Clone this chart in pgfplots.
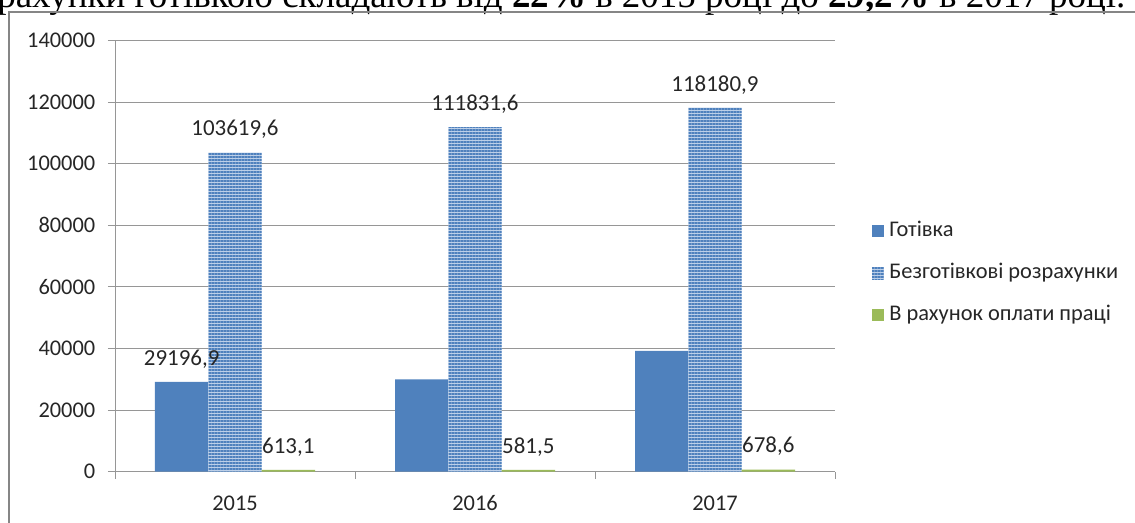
\documentclass[border=0pt]{standalone}
\usepackage{fontspec}
\setmainfont{Carlito}
\newfontfamily\serif{Liberation Serif}
\usepackage{pgfplots}
\pgfplotsset{compat=1.18}
\usetikzlibrary{patterns.meta}
\definecolor{cblue}{HTML}{4F81BD}
\definecolor{cgreen}{HTML}{9BBB59}
\definecolor{cstripe}{HTML}{BCCFE8}
\definecolor{cgrid}{HTML}{969696}
\definecolor{ctext}{HTML}{262626}
\definecolor{cframe}{HTML}{868686}
\pgfplotsset{sq legend/.style={legend image code/.code={\fill[##1] (0pt,-4.5pt) rectangle (9pt,4.5pt); \path (13pt,0pt);}}}
\begin{document}
\begin{tikzpicture}
\useasboundingbox (0pt,0pt) rectangle (851.25pt,392.25pt);
\clip (0pt,0pt) rectangle (851.25pt,392.25pt);
\node[anchor=base west, inner sep=0pt] at (-2.25pt,386.8pt) {\resizebox{846pt}{!}{\serif рахунки готівкою складають від \textbf{22\%} в 2015 році до \textbf{29,2\%} в 2017 році.}};
\draw[cframe, line width=1.5pt] (7.1pt,-20pt) -- (7.1pt,382.9pt) -- (900pt,382.9pt);
\begin{axis}[
  at={(86.25pt,38.475pt)}, anchor=south west,
  scale only axis, width=540pt, height=323.4pt,
  xmin=-0.5, xmax=2.5, ymin=0, ymax=140000,
  ytick={0,20000,...,140000},
  yticklabels={0,20000,40000,60000,80000,100000,120000,140000},
  ymajorgrids, grid style={cgrid, line width=0.75pt},
  axis x line*=bottom, axis y line*=left,
  axis line style={cgrid, line width=0.75pt},
  tick style={cgrid, line width=0.75pt},
  major tick length=5.25pt, tick align=outside,
  xtick={-0.5,0.5,1.5,2.5}, xticklabels={},
  extra x ticks={0,1,2}, extra x tick labels={2015,2016,2017},
  extra x tick style={major tick length=0pt},
  xticklabel style={font=\fontsize{16.8}{20}\selectfont, text=ctext, text height=11pt, text depth=0pt, yshift=-14.5pt},
  yticklabel style={font=\fontsize{16.8}{20}\selectfont, text=ctext, xshift=-6pt},
  scaled y ticks=false,
  ybar=0pt, bar width=40pt,
  clip=false,
  nodes near coords={\pgfplotspointmeta}, point meta=explicit symbolic,
  nodes near coords style={anchor=base, yshift=12.5pt, font=\fontsize{17.2}{20}\selectfont, text=ctext},
  legend style={at={(1.051,0.460)}, anchor=west, draw=none, fill=none, inner sep=0pt,
    font=\fontsize{16.8}{20}\selectfont, text=ctext, row sep=17.5pt,
    nodes={inner sep=0pt, text height=11pt, text depth=3pt}},
  legend cell align=left,
]
\addplot[fill=cblue, draw=none, sq legend] coordinates {(0,29196.9) [29196,9] (1,29975) [\relax] (2,39200) [\relax]};
\addplot[fill=cstripe, draw=none, sq legend, postaction={pattern={Lines[angle=0,distance=2.25pt,line width=0.9pt]}, pattern color=cblue}] coordinates {(0,103619.6) [103619,6] (1,111831.6) [111831,6] (2,118180.9) [118180,9]};
\addplot[fill=cgreen, draw=none, sq legend] coordinates {(0,613.1) [613,1] (1,581.5) [581,5] (2,678.6) [678,6]};
\legend{Готівка, Безготівкові розрахунки, В рахунок оплати праці}
\end{axis}
\end{tikzpicture}
\end{document}
